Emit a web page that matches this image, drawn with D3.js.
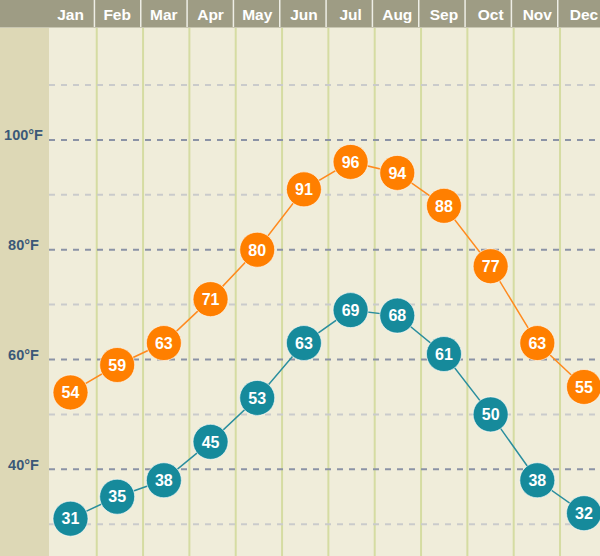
<!DOCTYPE html>
<html><head><meta charset="utf-8">
<script src="https://cdn.jsdelivr.net/npm/d3@7"></script>
<style>html,body{margin:0;padding:0;background:#f0edda;}svg{display:block;}</style>
</head><body><div id="chart"></div>
<script>
const months = ["Jan","Feb","Mar","Apr","May","Jun","Jul","Aug","Sep","Oct","Nov","Dec"];
const highs = [54,59,63,71,80,91,96,94,88,77,63,55];
const lows  = [31,35,38,45,53,63,69,68,61,50,38,32];
const majorTicks = [40,60,80,100];
const minorTicks = [30,50,70,90,110];
const tickLabels = ["40°F","60°F","80°F","100°F"];

const W = 600, H = 556;
const svg = d3.select("#chart").append("svg").attr("width", W).attr("height", H);

const headerH = 28, leftW = 49;
const x = d3.scalePoint().domain(months).range([70.5, 584]);
const cols = d3.scaleBand().domain(months).range([50.4, 50.4 + 12*46.33]);
const y = d3.scaleLinear().domain([24.2, 120.4]).range([556, 28]);

// backgrounds
svg.append("rect").attr("x",0).attr("y",0).attr("width",W).attr("height",H).attr("fill","#f0edda");
svg.append("rect").attr("x",0).attr("y",headerH).attr("width",leftW).attr("height",H-headerH).attr("fill","#ddd8b6");

// vertical column lines
svg.append("g").selectAll("line").data(months.slice(1)).join("line")
  .attr("x1", d => cols(d)).attr("x2", d => cols(d))
  .attr("y1", headerH).attr("y2", H)
  .attr("stroke", "#d5dca2").attr("stroke-width", 2);

// horizontal dashed gridlines
svg.append("g").selectAll("line").data(minorTicks).join("line")
  .attr("x1", leftW).attr("x2", W).attr("y1", d => y(d)).attr("y2", d => y(d))
  .attr("stroke", "#cacbcb").attr("stroke-width", 2).attr("stroke-dasharray", "6,6");
svg.append("g").selectAll("line").data(majorTicks).join("line")
  .attr("x1", leftW).attr("x2", W).attr("y1", d => y(d)).attr("y2", d => y(d))
  .attr("stroke", "#8b93a6").attr("stroke-width", 2).attr("stroke-dasharray", "6,6");

// y labels
svg.append("g").selectAll("text").data(majorTicks).join("text")
  .attr("x", 23.5).attr("y", d => y(d) + 0.5)
  .attr("text-anchor","middle")
  .attr("font-family","Liberation Sans, Arial, sans-serif").attr("font-weight","bold").attr("font-size",14.5)
  .attr("fill","#3b5878")
  .text((d,i) => tickLabels[i]);

// header
svg.append("rect").attr("x",0).attr("y",0).attr("width",W).attr("height",headerH).attr("fill","#9e9c84");
svg.append("g").selectAll("line").data(months.slice(1)).join("line")
  .attr("x1", d => cols(d) - 2.3).attr("x2", d => cols(d) - 2.3)
  .attr("y1", 0).attr("y2", headerH)
  .attr("stroke", "#eeeee6").attr("stroke-width", 1.5);
svg.append("line").attr("x1",0).attr("x2",W).attr("y1",headerH-0.5).attr("y2",headerH-0.5)
  .attr("stroke","#c9c7b2").attr("stroke-width",1);
svg.append("g").selectAll("text").data(months).join("text")
  .attr("x", d => x(d)).attr("y", 19.5)
  .attr("text-anchor","middle")
  .attr("font-family","Liberation Sans, Arial, sans-serif").attr("font-weight","bold").attr("font-size",15.5)
  .attr("fill","#ffffff")
  .text(d => d);

// series
const series = [
  {vals: highs, color: "#ff7f00", line: "#ff8a1e"},
  {vals: lows,  color: "#168a9b", line: "#2a8e9e"}
];
const lineGen = d3.line().x((d,i) => x(months[i])).y(d => y(d));
series.forEach(s => {
  svg.append("path").datum(s.vals).attr("d", lineGen)
    .attr("fill","none").attr("stroke", s.line).attr("stroke-width", 1.5);
  const g = svg.append("g").selectAll("g").data(s.vals).join("g")
    .attr("transform", (d,i) => `translate(${x(months[i])},${y(d)})`);
  g.append("circle").attr("r", 17.5).attr("fill", s.color)
    .attr("stroke","rgba(255,255,255,0.6)").attr("stroke-width",1);
  g.append("text").attr("text-anchor","middle").attr("dy","0.36em")
    .attr("font-family","Liberation Sans, Arial, sans-serif").attr("font-weight","bold").attr("font-size",16)
    .attr("fill","#ffffff").text(d => d);
});
</script></body></html>
